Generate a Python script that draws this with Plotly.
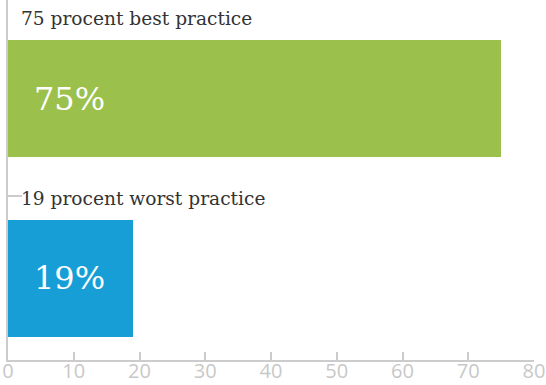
import plotly.graph_objects as go

categories = ["75 procent best practice", "19 procent worst practice"]
values = [75, 19]
value_labels = ["75%", "19%"]
colors = ["#9bc04c", "#189ed6"]
x_ticks = [0, 10, 20, 30, 40, 50, 60, 70, 80]

positions = list(range(len(categories)))

fig = go.Figure()
fig.add_trace(go.Bar(
    x=values,
    y=positions,
    orientation="h",
    width=0.653,
    marker=dict(color=colors, line=dict(width=0)),
    hoverinfo="skip",
))

# Category captions above each bar and value labels inside each bar
for pos, cat, lab in zip(positions, categories, value_labels):
    fig.add_annotation(
        x=0, y=pos - 0.445, xref="x", yref="y", text=cat,
        showarrow=False, xanchor="left", yanchor="middle", xshift=11,
        font=dict(family="DejaVu Serif", size=18.6, color="#333333"),
    )
    fig.add_annotation(
        x=0, y=pos, xref="x", yref="y", text=lab,
        showarrow=False, xanchor="left", yanchor="middle", xshift=24,
        font=dict(family="DejaVu Serif", size=32, color="#ffffff"),
    )

fig.update_layout(
    width=546, height=385,
    margin=dict(l=8, r=12, t=0, b=25),
    plot_bgcolor="#ffffff", paper_bgcolor="#ffffff",
    showlegend=False,
    bargap=0,
    xaxis=dict(
        range=[0, 80], tickvals=x_ticks, ticks="inside", ticklen=8,
        tickcolor="#cccccc", tickwidth=2, showgrid=False, zeroline=False,
        showline=True, linecolor="#cccccc", linewidth=2,
        tickfont=dict(family="Open Sans", size=20, color="#c8c8c8"),
        ticklabelstandoff=-8,
        ticklabeloverflow="allow", automargin=False, fixedrange=True,
    ),
    yaxis=dict(
        range=[1.456, -0.550], tickvals=[0.542], ticks="inside", ticklen=14,
        tickcolor="#cccccc", tickwidth=2, showticklabels=False,
        showgrid=False, zeroline=False, automargin=False,
        showline=True, linecolor="#cccccc", linewidth=2, fixedrange=True,
    ),
)

fig.write_html("out.html")
